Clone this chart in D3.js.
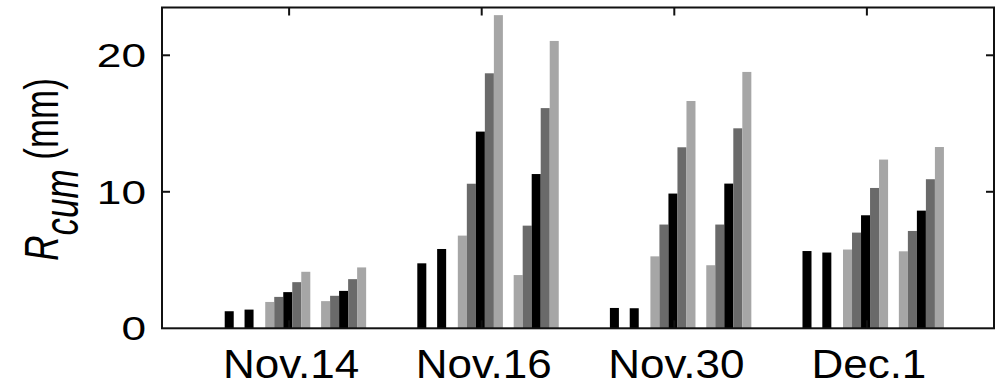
<!DOCTYPE html>
<html>
<head>
<meta charset="utf-8">
<script src="https://cdn.jsdelivr.net/npm/d3@7/dist/d3.min.js"></script>
<style>
  html, body { margin: 0; padding: 0; background: #fff; }
  svg { display: block; }
  text { font-family: "Liberation Sans", Arial, Helvetica, sans-serif; fill: #000; }
</style>
</head>
<body>
<svg id="chart" width="1008" height="386"></svg>
<script>
// Event dates on the x axis
const categories = ["Nov.14", "Nov.16", "Nov.30", "Dec.1"];

// Two single reference bars per event (black)
const refFirst  = [1.25, 4.76, 1.49, 5.66];
const refSecond = [1.37, 5.81, 1.47, 5.55];

// Two runs of five cumulative values per event
const runA = [
  [1.93, 2.30, 2.65, 3.38, 4.14],
  [6.79, 10.59, 14.41, 18.68, 22.94],
  [5.27, 7.60, 9.87, 13.26, 16.65],
  [5.77, 7.01, 8.28, 10.28, 12.36]
];
const runB = [
  [1.99, 2.38, 2.74, 3.60, 4.46],
  [3.90, 7.52, 11.30, 16.13, 21.05],
  [4.62, 7.60, 10.60, 14.65, 18.78],
  [5.64, 7.13, 8.62, 10.92, 13.28]
];

const yTicks = [0, 10, 20];

// ---- layout ----
const plotLeft = 162, plotRight = 994, plotTop = 7.5, plotBottom = 328.3;
const svg = d3.select("#chart");

const x = d3.scaleLinear().domain([0.34, 4.66]).range([plotLeft, plotRight]);
const y = d3.scaleLinear().domain([0, 23.5]).range([plotBottom, plotTop]);

const barW = 0.0468;                 // width of one bar in x units
const refOffsets = [-0.311, -0.208]; // centres of the two black bars
const runStart = [-0.124, 0.166];    // left edges of the two five-bar runs
const runColors = ["#a6a6a6", "#6a6a6a", "#000000", "#6a6a6a", "#a6a6a6"];

// flatten everything into bar records
const bars = [];
categories.forEach((c, i) => {
  const xc = i + 1;
  [refFirst[i], refSecond[i]].forEach((v, k) => {
    bars.push({ x0: xc + refOffsets[k] - barW / 2, v, color: "#000" });
  });
  [runA[i], runB[i]].forEach((run, r) => {
    run.forEach((v, k) => {
      bars.push({ x0: xc + runStart[r] + k * barW, v, color: runColors[k] });
    });
  });
});

svg.append("g").selectAll("rect")
  .data(bars)
  .join("rect")
  .attr("x", d => x(d.x0))
  .attr("width", d => x(d.x0 + barW) - x(d.x0))
  .attr("y", d => y(d.v))
  .attr("height", d => y(0) - y(d.v))
  .attr("fill", d => d.color);

// ---- axes box with inward ticks ----
const tickLen = 8;
const axes = svg.append("g").attr("stroke", "#111").attr("stroke-width", 2).attr("fill", "none");
axes.append("rect")
  .attr("x", plotLeft).attr("y", plotTop)
  .attr("width", plotRight - plotLeft).attr("height", plotBottom - plotTop);

yTicks.filter(t => t > 0).forEach(t => {
  axes.append("line").attr("x1", plotLeft).attr("x2", plotLeft + tickLen).attr("y1", y(t)).attr("y2", y(t));
  axes.append("line").attr("x1", plotRight).attr("x2", plotRight - tickLen).attr("y1", y(t)).attr("y2", y(t));
});
categories.forEach((c, i) => {
  const xv = x(i + 1);
  axes.append("line").attr("x1", xv).attr("x2", xv).attr("y1", plotTop).attr("y2", plotTop + tickLen);
  axes.append("line").attr("x1", xv).attr("x2", xv).attr("y1", plotBottom).attr("y2", plotBottom - tickLen);
});

// ---- tick labels ----
svg.append("g").selectAll("text")
  .data(yTicks)
  .join("text")
  .attr("transform", d => `translate(146,${y(d) + 12}) scale(1.3,1)`)
  .attr("text-anchor", "end")
  .attr("font-size", 34)
  .text(d => d);

svg.append("g").selectAll("text")
  .data(categories)
  .join("text")
  .attr("transform", (d, i) => `translate(${x(i + 1) + 2},377.5) scale(1.1,1)`)
  .attr("text-anchor", "middle")
  .attr("font-size", 40)
  .text(d => d);

// ---- y-axis title: R_cum (mm) ----
const yTitle = svg.append("text")
  .attr("transform", "translate(58,169.5) scale(1.36,1) rotate(-90)")
  .attr("text-anchor", "middle")
  .attr("font-size", 35);
yTitle.append("tspan").attr("font-style", "italic").text("R");
yTitle.append("tspan").attr("font-style", "italic").attr("dy", 14.7).text("cum");
yTitle.append("tspan").attr("dy", -14.7).text(" (mm)");
</script>
</body>
</html>
